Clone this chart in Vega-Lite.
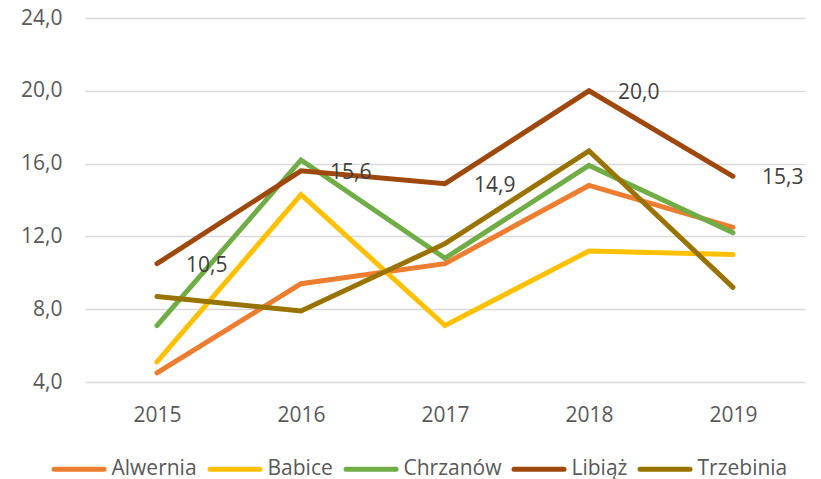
{
  "$schema": "https://vega.github.io/schema/vega-lite/v6.json",
  "width": 720,
  "height": 364,
  "autosize": "none",
  "padding": {"left": 85, "top": 18, "right": 16, "bottom": 97},
  "background": "white",
  "config": {
    "locale": {"number": {"decimal": ",", "thousands": " ", "grouping": [3], "currency": ["", " zł"]}},
    "view": {"stroke": null},
    "font": "Open Sans"
  },
  "data": {
    "values": [
      {"year": "2015", "city": "Alwernia", "value": 4.5},
      {"year": "2016", "city": "Alwernia", "value": 9.4},
      {"year": "2017", "city": "Alwernia", "value": 10.5},
      {"year": "2018", "city": "Alwernia", "value": 14.8},
      {"year": "2019", "city": "Alwernia", "value": 12.5},
      {"year": "2015", "city": "Babice", "value": 5.1},
      {"year": "2016", "city": "Babice", "value": 14.3},
      {"year": "2017", "city": "Babice", "value": 7.1},
      {"year": "2018", "city": "Babice", "value": 11.2},
      {"year": "2019", "city": "Babice", "value": 11.0},
      {"year": "2015", "city": "Chrzanów", "value": 7.1},
      {"year": "2016", "city": "Chrzanów", "value": 16.2},
      {"year": "2017", "city": "Chrzanów", "value": 10.8},
      {"year": "2018", "city": "Chrzanów", "value": 15.9},
      {"year": "2019", "city": "Chrzanów", "value": 12.2},
      {"year": "2015", "city": "Libiąż", "value": 10.5},
      {"year": "2016", "city": "Libiąż", "value": 15.6},
      {"year": "2017", "city": "Libiąż", "value": 14.9},
      {"year": "2018", "city": "Libiąż", "value": 20.0},
      {"year": "2019", "city": "Libiąż", "value": 15.3},
      {"year": "2015", "city": "Trzebinia", "value": 8.7},
      {"year": "2016", "city": "Trzebinia", "value": 7.9},
      {"year": "2017", "city": "Trzebinia", "value": 11.6},
      {"year": "2018", "city": "Trzebinia", "value": 16.7},
      {"year": "2019", "city": "Trzebinia", "value": 9.2}
    ]
  },
  "encoding": {
    "x": {
      "field": "year", "type": "ordinal",
      "scale": {"type": "point", "padding": 0.5},
      "axis": {"title": null, "labelAngle": 0, "domain": false, "ticks": false, "grid": false,
               "labelFontSize": 21, "labelColor": "#595959", "labelPadding": 22, "labelFont": "Open Sans"}
    },
    "y": {
      "field": "value", "type": "quantitative",
      "scale": {"domain": [4, 24], "nice": false, "zero": false},
      "axis": {"title": null, "values": [4, 8, 12, 16, 20, 24], "format": ".1f", "domain": false, "ticks": false,
               "gridColor": "#d9d9d9", "gridWidth": 1.5, "labelFontSize": 21, "labelColor": "#595959",
               "labelPadding": 23, "labelFont": "Open Sans"}
    }
  },
  "layer": [
    {
      "mark": {"type": "line", "strokeWidth": 5, "strokeCap": "round"},
      "encoding": {
        "color": {
          "field": "city", "type": "nominal",
          "scale": {
            "domain": ["Alwernia", "Babice", "Chrzanów", "Libiąż", "Trzebinia"],
            "range": ["#ED7D31", "#FFC000", "#70AD47", "#9E480E", "#997300"]
          },
          "legend": {
            "title": null, "orient": "none", "direction": "horizontal",
            "legendX": -16.5, "legendY": 440.5, "padding": 0,
            "symbolType": "M-5,0H5", "symbolSize": 100, "symbolStrokeWidth": 5,
            "labelFontSize": 21, "labelColor": "#595959", "labelFont": "Open Sans",
            "labelOffset": 22, "columnPadding": 2,
            "encode": {"symbols": {"update": {"strokeCap": {"value": "round"}}}}
          }
        }
      }
    },
    {
      "transform": [{"filter": "datum.city === 'Libiąż'"}],
      "mark": {"type": "text", "align": "left", "baseline": "middle", "dx": 29, "dy": 2,
               "fontSize": 21, "color": "#404040", "font": "Open Sans"},
      "encoding": {
        "text": {"field": "value", "type": "quantitative", "format": ".1f"}
      }
    }
  ]
}
